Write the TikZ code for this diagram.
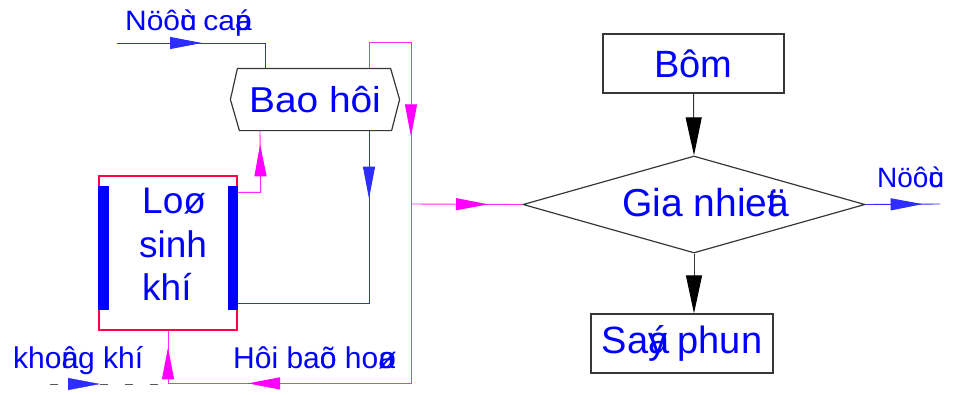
\documentclass[tikz,border=0pt]{standalone}
\usepackage{fontspec}
\usepackage{graphicx}
\setmainfont{Liberation Sans}
\usetikzlibrary{arrows.meta,decorations.markings,shapes.geometric,calc}
\definecolor{txtblue}{RGB}{0,0,255}
\definecolor{lnblue}{RGB}{45,45,255}
\definecolor{lnmag}{RGB}{255,40,255}
\definecolor{tipmag}{RGB}{255,0,255}
\definecolor{boxred}{RGB}{255,0,70}
\definecolor{outline}{RGB}{55,55,55}
\definecolor{dashgray}{RGB}{90,90,90}
\newcommand{\fsz}[1]{\fontsize{#1}{#1}\selectfont}
\newcommand{\wide}[2]{\scalebox{#1}[1]{#2}}

\begin{document}
\begin{tikzpicture}[x=1pt,y=-1pt,
  lbl/.style={anchor=base west, inner sep=0pt, text=txtblue},
  shapebox/.style={draw=outline, line width=1.2pt, rectangle, inner sep=0pt, text=txtblue},
  bluel/.style={draw=lnblue, line width=0.9pt},
  magl/.style={draw=lnmag, line width=0.9pt},
  tipat/.style 2 args={postaction={decorate,decoration={markings,
      mark=at position #1 with {\arrow{Triangle[length=32pt,width=12pt,color=#2,fill=#2]}}}}},
  flowtip/.style={-{Triangle[length=38pt,width=16pt,color=black,fill=black]}, draw=outline, line width=1pt},
]
\useasboundingbox (0,0) rectangle (954,394);

% ---- steam drum (hexagon) ----
\node[shapebox, draw=none, minimum width=168, minimum height=61, font=\fsz{36}] (bao) at (315,99.5) {\wide{1.08}{Bao hôi}};
\draw[draw=outline, line width=1.2pt]
  ($(bao.north west)+(7,0)$) -- ($(bao.north east)+(-9,0)$) -- (bao.east)
  -- ($(bao.south east)+(-8,0)$) -- ($(bao.south west)+(9,0)$) -- (bao.west) -- cycle;

% ---- gas generator furnace ----
\node[draw=boxred, line width=1.3pt, minimum width=138, minimum height=154, inner sep=0pt] (lo) at (168,253) {};
\fill[txtblue] ($(lo.north west)+(0,11)$) rectangle ($(lo.south west)+(11,-21)$);
\fill[txtblue] ($(lo.north east)+(-10,11)$) rectangle ($(lo.south east)+(0,-21)$);
\node[lbl, font=\fsz{37}] (lo1) at (142,213) {Loø};
\node[lbl, font=\fsz{37}] (lo2) at (139,257) {sinh};
\node[lbl, font=\fsz{37}] (lo3) at (142,300) {khí};

% ---- right-hand process chain ----
\node[shapebox, minimum width=181, minimum height=59, font=\fsz{38}] (bom) at (693.5,63.5) {Bôm};
\node[draw=outline, line width=1.2pt, shape=diamond, minimum width=342, minimum height=97, inner sep=0pt] (gia) at (694,204.5) {};
\node[lbl, font=\fsz{39}] (gialbl) at (622,216) {Gia nhie\rlap{ä}t};
\node[shapebox, minimum width=182, minimum height=59, font=\fsz{38}] (say) at (682,343.5) {Sa\rlap{á}y phun};

% ---- labels ----
\node[lbl, font=\fsz{28}] (feedlbl) at (125,30) {\wide{1.07}{Nöô\rlap{ù}c ca\rlap{á}p}};
\node[lbl, font=\fsz{28}] (outlbl) at (877,187) {Nöô\rlap{ù}c};
\node[lbl, font=\fsz{30}] (airlbl) at (13,368) {kho\rlap{â}ng khí};
\node[lbl, font=\fsz{30}] (steamlbl) at (233,368) {Hôi ba\rlap{õ}o ho\rlap{ø}a};

% ---- free ends ----
\coordinate (feedin) at (117,43);
\coordinate (airin) at (50,384);
\coordinate (airend) at (160,384);
\coordinate (jn) at (411,204);
\coordinate (out) at (940,204);

% ---- feed water into the drum ----
\draw[bluel, tipat={85pt}{lnblue}] (feedin) -- (265,43) -- ($(bao.north)+(-50,0)$);

% ---- saturated steam loop: drum -> around -> furnace ----
\draw[magl, tipat={162pt}{tipmag}, tipat={572pt}{tipmag}, tipat={688pt}{tipmag}]
  ($(bao.north)+(54,0)$) -- ++(0,-26) -- ++(42,0) -- ++(0,341) -| (lo.south);

% ---- furnace -> drum (steam) ----
\draw[magl, tipat={71pt}{tipmag}] ($(lo.north east)+(0,17)$) -- ++(23,0) -- ($(bao.south)+(-55,0)$);

% ---- drum -> furnace (water) ----
\draw[bluel, tipat={68pt}{lnblue}] ($(bao.south)+(54,0)$) |- ($(lo.south east)+(0,-27)$);

% ---- steam branch to the heater ----
\draw[magl, tipat={77pt}{tipmag}] (jn) -- (gia.west);

% ---- air inlet ----
\draw[draw=dashgray, line width=0.9pt, dash pattern=on 8pt off 17pt] (airin) -- (airend);
\path[tipat={50pt}{lnblue}] (airin) -- (airend);

% ---- process flow ----
\draw[flowtip] (bom.south) -- (gia.north);
\draw[flowtip] (gia.south) -- (gia.south |- say.north);
\draw[bluel, tipat={57pt}{lnblue}] (gia.east) -- (out);
\end{tikzpicture}
\end{document}
